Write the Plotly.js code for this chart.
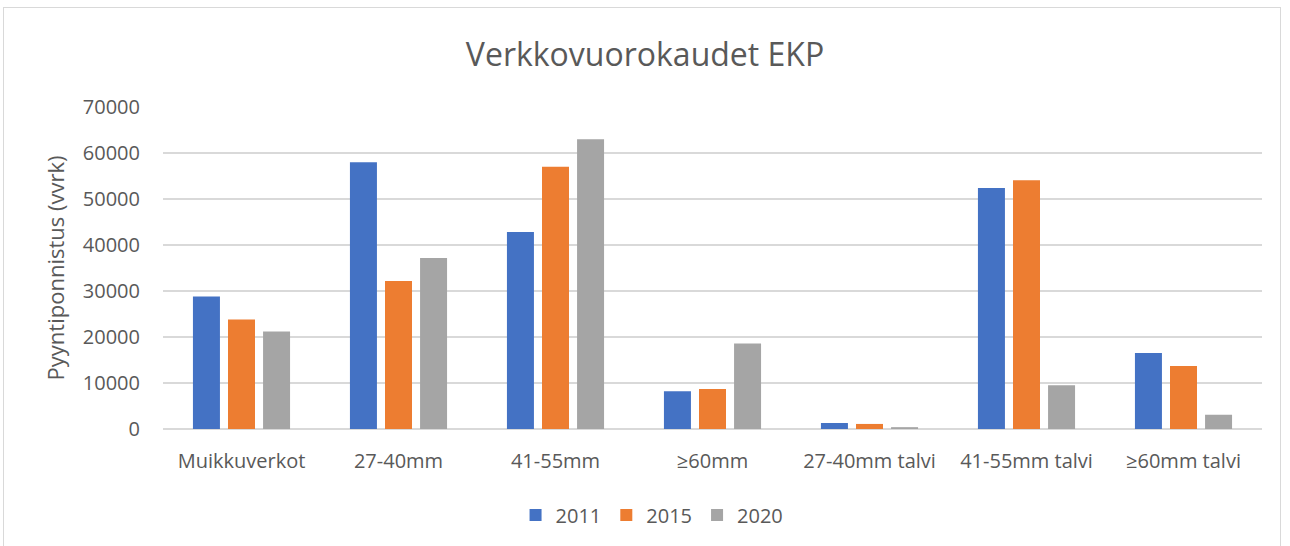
<!DOCTYPE html>
<html>
<head>
<meta charset="utf-8">
<script src="https://cdn.plot.ly/plotly-3.0.1.min.js"></script>
<style>
html,body{margin:0;padding:0;background:#fff;}
#wrap{position:relative;width:1290px;height:546px;}
#frame{position:absolute;left:3px;top:7px;width:1278px;height:545px;border:1px solid #d9d9d9;box-sizing:border-box;pointer-events:none;}
#chart{position:absolute;left:0;top:0;width:1290px;height:546px;}
</style>
</head>
<body>
<div id="wrap"><div id="chart"></div><div id="frame"></div></div>
<script>
const categories = ["Muikkuverkot", "27-40mm", "41-55mm", "≥60mm", "27-40mm talvi", "41-55mm talvi", "≥60mm talvi"];
const seriesNames = ["2011", "2015", "2020"];
const values2011 = [28800, 58000, 42800, 8200, 1300, 52400, 16500];
const values2015 = [23800, 32200, 57000, 8700, 1100, 54100, 13700];
const values2020 = [21200, 37200, 63000, 18600, 400, 9500, 3100];
const colors = ["#4472c4", "#ed7d31", "#a5a5a5"];
const yTicks = [0, 10000, 20000, 30000, 40000, 50000, 60000, 70000];

const fontFam = "Open Sans, Noto Sans, sans-serif";
const allVals = [values2011, values2015, values2020];
const traces = seriesNames.map((n, i) => ({
  type: "bar",
  name: n,
  x: categories,
  y: allVals[i],
  marker: {color: colors[i], line: {width: 0}},
  hoverinfo: "x+y+name"
}));

const layout = {
  width: 1290, height: 546,
  autosize: false,
  margin: {l: 163, r: 28, t: 107, b: 117, autoexpand: false},
  paper_bgcolor: "#ffffff", plot_bgcolor: "#ffffff",
  font: {family: fontFam, color: "#595959", size: 20},
  title: {text: "Verkkovuorokaudet EKP", font: {family: fontFam, size: 32, color: "#595959"},
          x: 0.5, xref: "container", xanchor: "center", y: 0.899, yref: "container", yanchor: "middle"},
  barmode: "group", bargap: 0.33, bargroupgap: 0.23,
  xaxis: {type: "category", showgrid: false, zeroline: false, showline: false, ticks: "",
          tickangle: 0, tickfont: {size: 20, color: "#595959"}, automargin: false, ticklabelstandoff: 18},
  yaxis: {range: [0, 70000], tickvals: yTicks, ticktext: yTicks.map(String), showgrid: true,
          gridcolor: "#d9d9d9", gridwidth: 1.5, zeroline: true, zerolinecolor: "#d9d9d9", zerolinewidth: 1.5,
          showline: false, ticks: "", tickfont: {size: 20, color: "#595959"}, automargin: false,
          ticklabelstandoff: 22,
          title: {text: "Pyyntiponnistus (vvrk)", font: {size: 22, color: "#595959"}, standoff: 12}},
  legend: {orientation: "h", x: 0.445, xanchor: "center", y: -0.267, yanchor: "middle",
           font: {size: 20, color: "#595959"}, traceorder: "normal"},
  showlegend: true
};

Plotly.newPlot("chart", traces, layout, {displayModeBar: false, staticPlot: true});
</script>
</body>
</html>
